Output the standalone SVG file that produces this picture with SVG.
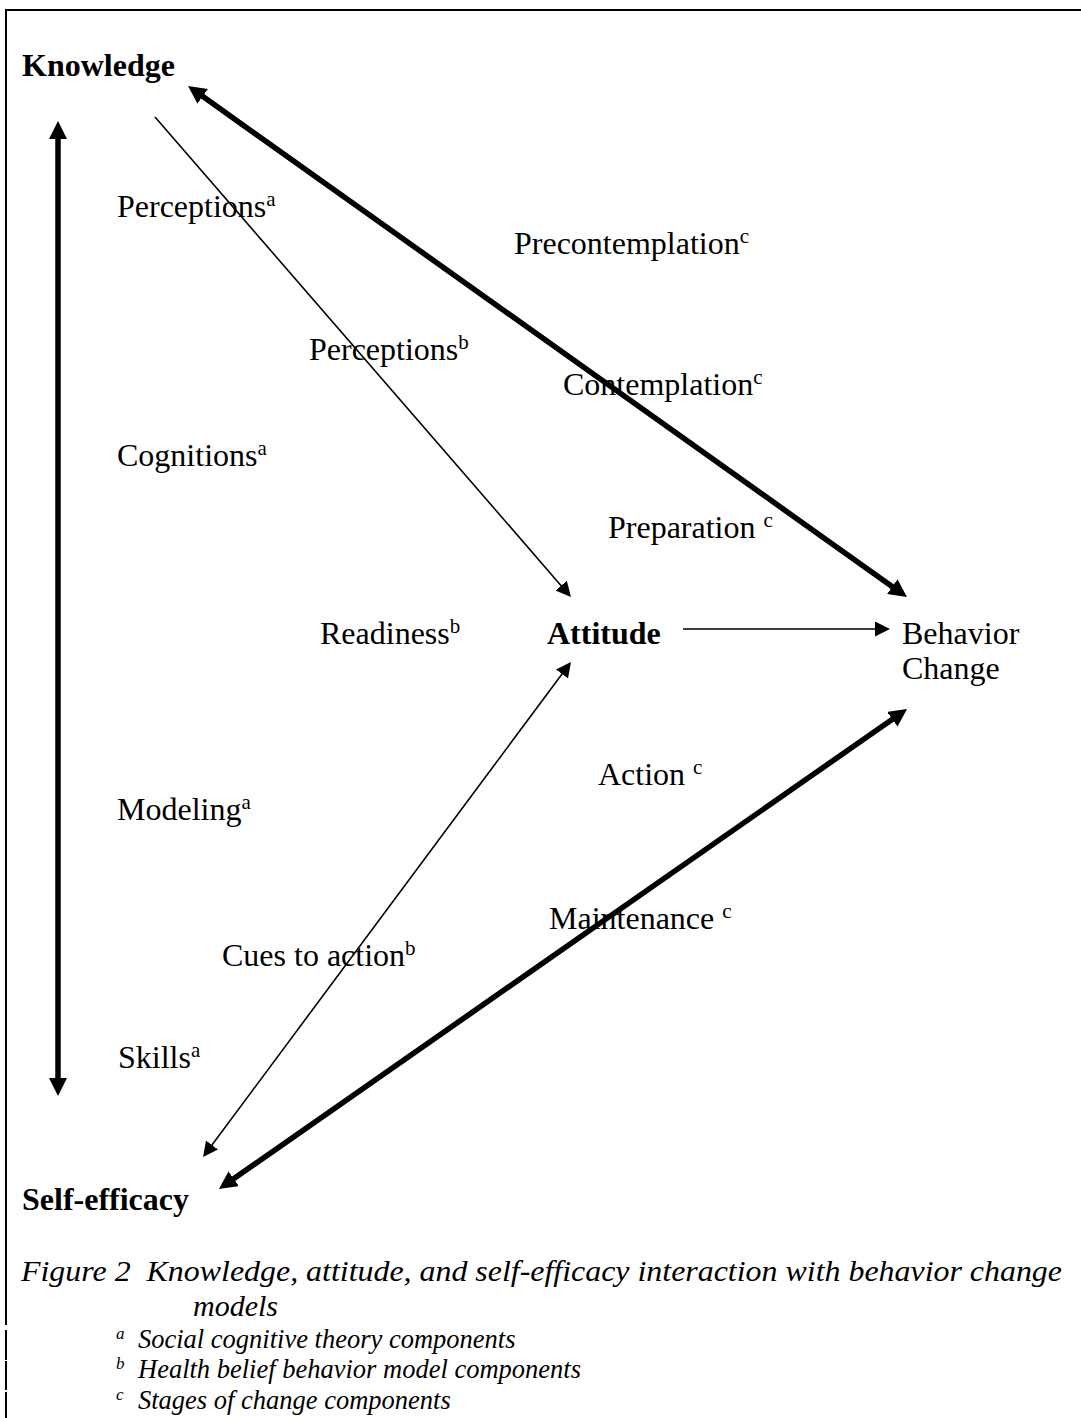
<svg xmlns="http://www.w3.org/2000/svg" width="1081" height="1418" viewBox="0 0 1081 1418">
<style>
text{font-family:"Liberation Serif","Times New Roman",serif;fill:#000}
.t{font-size:32px}
.b{font-size:32px;font-weight:bold}
.sup{font-size:21px}
.cap{font-size:30px;font-style:italic}
.fn{font-size:26.5px;font-style:italic}
.fs{font-size:17px;font-style:italic}
.thick{stroke:#000;stroke-width:5.5;fill:none}
.thin{stroke:#000;stroke-width:1.6;fill:none}
.border{stroke:#000;stroke-width:2;fill:none}
</style>
<defs>
<marker id="ahThick" viewBox="0 0 18 18" markerWidth="18" markerHeight="18" refX="1" refY="9" orient="auto-start-reverse" markerUnits="userSpaceOnUse">
<path d="M0,0 L18,9 L0,18 Z" fill="#000"/>
</marker>
<marker id="ahThin" viewBox="0 0 15 15" markerWidth="15" markerHeight="15" refX="1" refY="7.5" orient="auto-start-reverse" markerUnits="userSpaceOnUse">
<path d="M0,0 L15,7.5 L0,15 Z" fill="#000"/>
</marker>
</defs>
<rect width="1081" height="1418" fill="#fff"/>
<g id="border">
<line class="border" x1="5" y1="10" x2="1081" y2="10"/>
<line class="border" x1="6" y1="9" x2="6" y2="1325"/>
<line class="border" x1="6" y1="1330" x2="6" y2="1360"/>
<line class="border" x1="6" y1="1361" x2="6" y2="1390"/>
<line class="border" x1="6" y1="1392" x2="6" y2="1418"/>
</g>
<g id="connectors">
<line class="thick" x1="58" y1="138" x2="58" y2="1079" marker-start="url(#ahThick)" marker-end="url(#ahThick)"/>
<line class="thick" x1="201.9" y1="95.8" x2="893.1" y2="587.2" marker-start="url(#ahThick)" marker-end="url(#ahThick)"/>
<line class="thick" x1="232.9" y1="1179.3" x2="893.1" y2="718.7" marker-start="url(#ahThick)" marker-end="url(#ahThick)"/>
<line class="thin" x1="155" y1="117" x2="561.8" y2="586.4" marker-end="url(#ahThin)"/>
<line class="thin" x1="562.6" y1="673.2" x2="211.4" y2="1145.8" marker-start="url(#ahThin)" marker-end="url(#ahThin)"/>
<line class="thin" x1="683" y1="629" x2="876" y2="629" marker-end="url(#ahThin)"/>
</g>
<g id="knowledge"><text class="b" x="22" y="76">Knowledge</text></g>
<g id="attitude"><text class="b" x="547" y="644">Attitude</text></g>
<g id="self-efficacy"><text class="b" x="22" y="1210">Self-efficacy</text></g>
<g id="behavior-change"><text class="t" x="902" y="644">Behavior</text><text class="t" x="902" y="679">Change</text></g>
<g id="labels">
<text class="t" x="117" y="217">Perceptions<tspan class="sup" dy="-11">a</tspan></text>
<text class="t" x="514" y="254">Precontemplation<tspan class="sup" dy="-11">c</tspan></text>
<text class="t" x="309" y="360">Perceptions<tspan class="sup" dy="-11">b</tspan></text>
<text class="t" x="563" y="395">Contemplation<tspan class="sup" dy="-11">c</tspan></text>
<text class="t" x="117" y="466">Cognitions<tspan class="sup" dy="-11">a</tspan></text>
<text class="t" x="608" y="538">Preparation <tspan class="sup" dy="-11">c</tspan></text>
<text class="t" x="320" y="644">Readiness<tspan class="sup" dy="-11">b</tspan></text>
<text class="t" x="598" y="785">Action <tspan class="sup" dy="-11">c</tspan></text>
<text class="t" x="117" y="820">Modeling<tspan class="sup" dy="-11">a</tspan></text>
<text class="t" x="549" y="929">Maintenance <tspan class="sup" dy="-11">c</tspan></text>
<text class="t" x="222" y="966">Cues to action<tspan class="sup" dy="-11">b</tspan></text>
<text class="t" x="118" y="1068">Skills<tspan class="sup" dy="-11">a</tspan></text>
</g>
<g id="caption">
<text class="cap" x="21" y="1281" textLength="1041" lengthAdjust="spacingAndGlyphs">Figure 2&#160; Knowledge, attitude, and self-efficacy interaction with behavior change</text>
<text class="cap" x="193" y="1316">models</text>
<text class="fs" x="116" y="1339">a</text><text class="fn" x="138" y="1348">Social cognitive theory components</text>
<text class="fs" x="116" y="1369">b</text><text class="fn" x="138" y="1378">Health belief behavior model components</text>
<text class="fs" x="116" y="1400">c</text><text class="fn" x="138" y="1409">Stages of change components</text>
</g>
</svg>
